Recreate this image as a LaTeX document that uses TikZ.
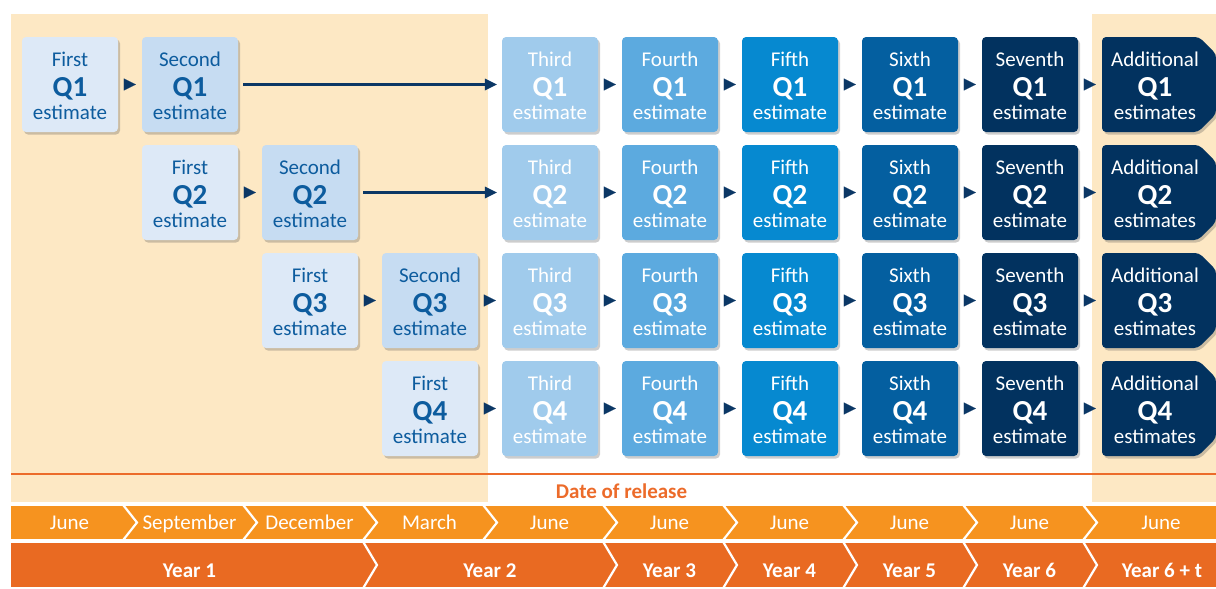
\documentclass[tikz,border=0pt]{standalone}
\usepackage{fontspec}
\setmainfont{Carlito}
\usetikzlibrary{arrows.meta,shadows}
\definecolor{beige}{HTML}{FDE8C4}
\definecolor{cA}{HTML}{DDE9F7}
\definecolor{cB}{HTML}{C6DCF2}
\definecolor{cC}{HTML}{A0CBEC}
\definecolor{cD}{HTML}{5CAADF}
\definecolor{cE}{HTML}{0689D0}
\definecolor{cF}{HTML}{045FA0}
\definecolor{cG}{HTML}{02325F}
\definecolor{dkblue}{HTML}{0D5C9E}
\definecolor{navy}{HTML}{0B3765}
\definecolor{monthor}{HTML}{F6931F}
\definecolor{yearor}{HTML}{E96A22}
\definecolor{lineor}{HTML}{EC6B2A}
\tikzset{
  boxshadow/.style={drop shadow={shadow xshift=2pt, shadow yshift=-2.5pt, opacity=0.28, fill=black!70}},
  estbox/.style={rounded corners=4pt, minimum width=96pt, minimum height=95pt, inner sep=0pt, boxshadow},
  ghost/.style={minimum width=96pt, minimum height=95pt, inner sep=0pt},
  smalltxt/.style={anchor=base, inner sep=0pt, font=\fontsize{21}{21}\selectfont},
  bigtxt/.style={anchor=base, inner sep=0pt, font=\fontsize{29}{29}\selectfont\bfseries},
  tri/.style={navy, line width=0.1pt, shorten <=6pt, shorten >=6pt, -{Triangle[length=12pt,width=12pt]}},
  longarr/.style={navy, line width=2.6pt, shorten <=5pt, shorten >=5pt, -{Triangle[length=12pt,width=12pt,line width=0pt]}},
  monthtxt/.style={anchor=base, inner sep=0pt, text=white, font=\fontsize{21}{21}\selectfont},
  yeartxt/.style={anchor=base, inner sep=0pt, text=white, font=\fontsize{21}{21}\selectfont\bfseries},
  chev/.style={white, line width=2.2pt},
}
% #1 name, #2 column, #3 row, #4 fill, #5 text colour, #6 word, #7 quarter, #8 last word
\newcommand\ebox[8]{%
  \pgfmathsetmacro\cx{70+120*(#2-1)}%
  \pgfmathsetmacro\cy{84.5+108*(#3-1)}%
  \node[estbox, fill=#4] (#1) at (\cx,\cy) {};
  \node[smalltxt, text=#5] (#1-a) at (\cx,\cy-18) {#6};
  \node[bigtxt, text=#5] (#1-b) at (\cx,\cy+12) {#7};
  \node[smalltxt, text=#5] (#1-c) at (\cx,\cy+35) {#8};
}
% additional estimates box, #1 row
\newcommand\addbox[1]{%
  \pgfmathsetmacro\ty{37+108*(#1-1)}%
  \pgfmathsetmacro\by{\ty+95}%
  \pgfmathsetmacro\my{\ty+47.5}%
  \fill[cG, rounded corners=4pt, boxshadow] (1102,\my) -- (1102,\ty) -- (1199,\ty) -- (1216,\ty+17) -- (1216,\by-18) -- (1198,\by) -- (1102,\by) -- cycle;
  \node[ghost] (a#1) at (1150,\my) {};
  \node[smalltxt, text=white] (a#1-a) at (1155,\my-18) {Additional};
  \node[bigtxt, text=white] (a#1-b) at (1155,\my+12) {Q#1};
  \node[smalltxt, text=white] (a#1-c) at (1155,\my+35) {estimates};
}
\begin{document}
\begin{tikzpicture}[x=1pt,y=-1pt]
\useasboundingbox (0,0) rectangle (1216,589);
% background panels
\fill[beige] (11,14) rectangle (488,502);
\fill[beige] (1092,14) rectangle (1216,502);
% first and second estimates
\ebox{f1}{1}{1}{cA}{dkblue}{First}{Q1}{estimate}
\ebox{s1}{2}{1}{cB}{dkblue}{Second}{Q1}{estimate}
\ebox{f2}{2}{2}{cA}{dkblue}{First}{Q2}{estimate}
\ebox{s2}{3}{2}{cB}{dkblue}{Second}{Q2}{estimate}
\ebox{f3}{3}{3}{cA}{dkblue}{First}{Q3}{estimate}
\ebox{s3}{4}{3}{cB}{dkblue}{Second}{Q3}{estimate}
\ebox{f4}{4}{4}{cA}{dkblue}{First}{Q4}{estimate}
% later estimates
\foreach \r in {1,2,3,4}{
  \ebox{t\r}{5}{\r}{cC}{white}{Third}{Q\r}{estimate}
  \ebox{u\r}{6}{\r}{cD}{white}{Fourth}{Q\r}{estimate}
  \ebox{v\r}{7}{\r}{cE}{white}{Fifth}{Q\r}{estimate}
  \ebox{w\r}{8}{\r}{cF}{white}{Sixth}{Q\r}{estimate}
  \ebox{x\r}{9}{\r}{cG}{white}{Seventh}{Q\r}{estimate}
  \addbox{\r}
  \draw[tri] (t\r) -- (u\r);
  \draw[tri] (u\r) -- (v\r);
  \draw[tri] (v\r) -- (w\r);
  \draw[tri] (w\r) -- (x\r);
  \draw[tri] (x\r) -- (a\r);
}
% connectors of the first rows
\draw[tri] (f1) -- (s1);
\draw[longarr] (s1) -- (t1);
\draw[tri] (f2) -- (s2);
\draw[longarr] (s2) -- (t2);
\draw[tri] (f3) -- (s3);
\draw[tri] (s3) -- (t3);
\draw[tri] (f4) -- (t4);
% timeline
\draw[lineor, line width=2pt] (11,474) -- (1216,474);
\node[anchor=base, inner sep=0pt, text=lineor, font=\fontsize{21}{21}\selectfont\bfseries] (dor) at (621.5,498) {Date of release};
\fill[monthor] (11,506) rectangle (1216,539);
\fill[yearor] (11,543) rectangle (1216,587);
\foreach \b in {124,244,364,484,604,724,844,964,1084}
  \draw[chev] (\b-1,504.8) -- (\b+13,522.5) -- (\b-1,540.2);
\foreach \b in {364,604,724,844,964,1084}
  \draw[chev] (\b-1,541.6) -- (\b+13,565) -- (\b-1,588.4);
\foreach \m/\xx [count=\i] in {June/69.5,September/189.5,December/309.5,March/429.5,June/549.5,June/669.5,June/789.5,June/909.5,June/1029.5,June/1161}
  \node[monthtxt] (m\i) at (\xx,529) {\m};
\foreach \y/\xx [count=\i] in {Year 1/189.5,Year 2/490,Year 3/669.5,Year 4/789.5,Year 5/909.5,Year 6/1029.5,Year 6 + t/1162}
  \node[yeartxt] (y\i) at (\xx,577) {\y};
\end{tikzpicture}
\end{document}
